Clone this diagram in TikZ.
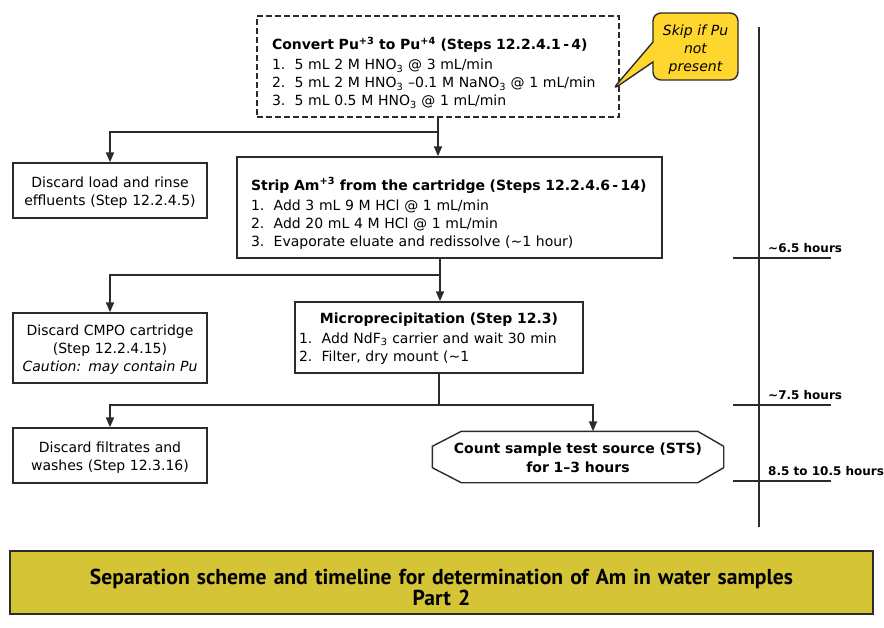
\documentclass[tikz,border=0pt]{standalone}
\usepackage{fontspec}
\setmainfont{DejaVu Sans}
\newfontfamily\bannerfont{PT Sans}
\usetikzlibrary{arrows.meta,shapes.callouts}
\definecolor{ink}{HTML}{2B2B2B}
\definecolor{note}{HTML}{FFD62E}
\definecolor{banner}{HTML}{D4C436}
\newcommand{\lst}[1]{\makebox[\linewidth][l]{#1}}
\tikzset{
  box/.style={draw=ink, line width=1.4pt, fill=white, inner sep=0pt,
    font=\fontsize{14}{18}\selectfont},
  drop/.style={execute at begin node={\rule{0pt}{#1}}},
  stepbox/.style={box, align=left},
  dashbox/.style={stepbox, dash pattern=on 6pt off 3pt},
  outbox/.style={box, align=center, text width=188},
  arr/.style={line width=1.8pt, draw=ink, -{Triangle[length=10pt,width=8pt]}},
  link/.style={line width=1.8pt, draw=ink},
  tline/.style={line width=1.4pt, draw=ink},
  tlab/.style={anchor=west, inner sep=0pt, font=\fontsize{12}{14}\selectfont\bfseries},
  note/.style={rectangle callout, fill=note, draw=ink, line width=1.4pt,
    rounded corners=8pt, align=center, text width=80, inner sep=0pt, callout pointer width=20pt,
    font=\fontsize{14}{18}\selectfont\itshape}
}

\begin{document}
\begin{tikzpicture}[x=1pt, y=-1pt]
  \useasboundingbox (0,0) rectangle (884,627);

  % process boxes
  \node[dashbox, drop=25pt, minimum width=362, minimum height=101, text width=332] (convert) at (438,66.5)
    {\textbf{Convert Pu\textsuperscript{+3} to Pu\textsuperscript{+4} (Steps 12.2.4.1\,-\,4)}\\[2pt]
     1.~~5 mL 2 M HNO\textsubscript{3} @ 3 mL/min\\
     2.~~5 mL 2 M HNO\textsubscript{3} --0.1 M NaNO\textsubscript{3} @ 1 mL/min\\
     3.~~5 mL 0.5 M HNO\textsubscript{3} @ 1 mL/min};
  \node[note, drop=16pt, minimum width=85, minimum height=67, callout absolute pointer={(612,90)}] (skip) at (695.5,46.5)
    {Skip if Pu\\not\\present};

  \node[outbox, drop=15pt, minimum width=194, minimum height=55] (load) at (110,190.5)
    {Discard load and rinse\\effluents (Step 12.2.4.5)};
  \node[stepbox, drop=24pt, minimum width=425, minimum height=101, text width=397] (strip) at (449.5,207.5)
    {\textbf{Strip Am\textsuperscript{+3} from the cartridge (Steps 12.2.4.6\,-\,14)}\\[2pt]
     1.~~Add 3 mL 9 M HCl @ 1 mL/min\\
     2.~~Add 20 mL 4 M HCl @ 1 mL/min\\
     3.~~Evaporate eluate and redissolve (\textasciitilde1 hour)};

  \node[outbox, drop=13.6pt, minimum width=194, minimum height=70] (cmpo) at (110,348)
    {Discard CMPO cartridge\\(Step 12.2.4.15)\\\textit{Caution: may contain Pu}};
  \node[outbox, drop=12pt, minimum width=288, minimum height=71, text width=280] (micro) at (439,337.5)
    {\textbf{Microprecipitation (Step 12.3)}\\[2pt]
     \lst{1.~~Add NdF\textsubscript{3} carrier and wait 30 min}\\
     \lst{2.~~Filter, dry mount (\textasciitilde1}};

  \node[outbox, drop=14pt, minimum width=194, minimum height=55] (filt) at (110,455.5)
    {Discard filtrates and\\washes (Step 12.3.16)};
  \node[outbox, draw=none, fill=none, drop=13pt, font=\fontsize{14}{19}\selectfont\bfseries,
    minimum width=290, minimum height=50, text width=280] (count) at (578,457)
    {Count sample test source (STS)\\for 1--3 hours};
  \draw[box, fill=none] ([xshift=29]count.north west) -- ([xshift=-26]count.north east)
    -- ([yshift=-15]count.north east) -- ([yshift=15]count.south east)
    -- ([xshift=-26]count.south east) -- ([xshift=29]count.south west)
    -- ([yshift=15]count.south west) -- ([yshift=-15]count.north west) -- cycle;

  % connectors
  \coordinate (j1) at (438,132);
  \coordinate (j2) at (440,275);
  \coordinate (j3) at (439,405);
  \coordinate (c3) at (593,405);
  \draw[arr] (convert.south) -- (convert.south |- strip.north);
  \draw[arr] (j1) -| (load.north);
  \draw[arr] (strip.south -| j2) -- (j2 |- micro.north);
  \draw[arr] (j2) -| (cmpo.north);
  \draw[link] (micro.south -| j3) -- (j3);
  \draw[arr] (j3) -| (filt.north);
  \draw[arr] (j3) -- (c3) -- (c3 |- count.north);

  % timeline
  \coordinate (ttop) at (759,27);
  \coordinate (tbot) at (759,527);
  \draw[tline] (ttop) -- (tbot);
  \foreach \y/\t in {258/\textasciitilde6.5 hours, 405/\textasciitilde7.5 hours, 481/8.5 to 10.5 hours}{
    \draw[tline] (733,\y) -- (831,\y);
    \node[tlab] at (768,\y-10) {\t};
  }

  % caption
  \node[draw=ink, line width=1.4pt, fill=banner, drop=26pt, minimum width=863, minimum height=63,
    align=center, text width=850, font=\fontsize{21.6}{21}\selectfont\bannerfont\bfseries] (title) at (441.5,582.5)
    {Separation scheme and timeline for determination of Am in water samples\\Part 2};
\end{tikzpicture}
\end{document}
